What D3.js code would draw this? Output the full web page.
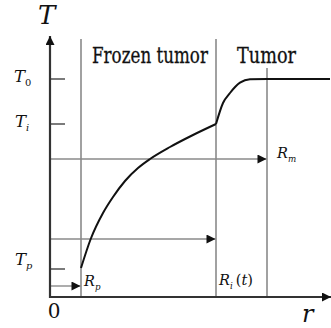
<!DOCTYPE html>
<html>
<head>
<meta charset="utf-8">
<script src="https://cdn.jsdelivr.net/npm/d3@7"></script>
<style>
  html, body { margin: 0; padding: 0; background: #fff; }
  svg { display: block; }
</style>
</head>
<body>
<svg id="chart" width="331" height="328"></svg>
<script>
// Radial positions (arbitrary units along r)
const radii = { Rp: 3.1, Ri: 16.6, Rm: 21.7, rMax: 28 };
// Temperature levels (arbitrary units along T)
const temps = { T0: 21.8, Ti: 17.3, Tp: 2.8, tMax: 26 };

// Temperature profile inside the frozen region (Rp .. Ri)
const frozenR = [3.1, 4.07, 5.3, 6.3, 7.5, 8.8, 10.0, 12.0, 14.3, 16.6];
const frozenT = [2.9, 5.8, 8.4, 10.0, 11.6, 12.9, 13.8, 15.0, 16.2, 17.3];
// Temperature profile in the unfrozen tumor (Ri .. outward)
const tumorR = [16.6, 17.3, 18.0, 19.0, 20.0, 21.7, 28];
const tumorT = [17.3, 19.4, 20.4, 21.43, 21.77, 21.8, 21.8];

// Horizontal arrow levels: target radius and temperature level
const arrowLevels = [
  { to: radii.Rm, t: 13.8 },
  { to: radii.Ri, t: 5.8 },
  { to: radii.Rp, t: 1.1 }
];

const FONT = "'DejaVu Serif', serif";

const svg = d3.select("#chart");
const x = d3.scaleLinear().domain([0, radii.rMax]).range([50, 330]);
const y = d3.scaleLinear().domain([0, temps.tMax]).range([297, 37]);

const defs = svg.append("defs");
defs.append("marker")
  .attr("id", "head")
  .attr("viewBox", "0 0 10 10")
  .attr("refX", 10).attr("refY", 5)
  .attr("markerWidth", 11).attr("markerHeight", 9)
  .attr("markerUnits", "userSpaceOnUse")
  .attr("orient", "auto")
  .append("path").attr("d", "M0,0 L10,5 L0,10 Z").attr("fill", "#111");

const gray = "#8a8a8a";

// Vertical boundaries at Rp, Ri and Rm
[[radii.Rp, 25.8], [radii.Ri, 25.8], [radii.Rm, 22.9]].forEach(([r, top]) => {
  svg.append("line")
    .attr("x1", x(r)).attr("x2", x(r))
    .attr("y1", y(top)).attr("y2", y(0))
    .attr("stroke", gray).attr("stroke-width", 1.6);
});

// Horizontal arrows from the axis out to each radius
arrowLevels.forEach(a => {
  svg.append("line")
    .attr("x1", x(0)).attr("x2", x(a.to) - 0.5)
    .attr("y1", y(a.t)).attr("y2", y(a.t))
    .attr("stroke", gray).attr("stroke-width", 1.4)
    .attr("marker-end", "url(#head)");
});

// Tick marks for T0, Ti, Tp
[temps.T0, temps.Ti, temps.Tp].forEach(t => {
  svg.append("line")
    .attr("x1", x(0)).attr("x2", x(0) + 15)
    .attr("y1", y(t)).attr("y2", y(t))
    .attr("stroke", "#333").attr("stroke-width", 1.3);
});

// Axes
svg.append("line")
  .attr("x1", x(0)).attr("x2", 331)
  .attr("y1", y(0)).attr("y2", y(0))
  .attr("stroke", "#333").attr("stroke-width", 2.2)
  .attr("marker-end", "url(#head)");
svg.append("line")
  .attr("x1", x(0)).attr("x2", x(0))
  .attr("y1", y(0) + 1).attr("y2", 36)
  .attr("stroke", "#333").attr("stroke-width", 2.2)
  .attr("marker-end", "url(#head)");

// Temperature curve
const line = d3.line().x(d => x(d[0])).y(d => y(d[1])).curve(d3.curveMonotoneX);
svg.append("path")
  .datum(d3.zip(frozenR, frozenT))
  .attr("d", line).attr("fill", "none")
  .attr("stroke", "#111").attr("stroke-width", 2);
svg.append("path")
  .datum(d3.zip(tumorR, tumorT))
  .attr("d", line).attr("fill", "none")
  .attr("stroke", "#111").attr("stroke-width", 2);

function txt(px, py, size) {
  return svg.append("text").attr("x", px).attr("y", py)
    .attr("font-family", FONT).attr("font-size", size).attr("fill", "#111");
}

// Condensed title: squeezed horizontally to a given width
function squeezed(px, py, size, width, label) {
  const t = svg.append("text").attr("x", 0).attr("y", 0)
    .attr("font-family", FONT).attr("font-size", size).attr("fill", "#111")
    .attr("stroke", "#111").attr("stroke-width", 0.3)
    .text(label);
  const w = t.node().getComputedTextLength();
  t.attr("transform", `translate(${px},${py}) scale(${width / w},1)`);
  return t;
}

// Region titles
squeezed(92, 63, 22, 116, "Frozen tumor");
squeezed(237, 63, 22, 59, "Tumor");

// Axis names
txt(38, 24, 26).attr("font-style", "italic").text("T");
txt(302, 322, 24).attr("font-style", "italic").text("r");
txt(54, 318, 20).attr("text-anchor", "middle").text("0");

// Symbol with subscript
function subLabel(px, py, main, sub, size, extra) {
  const t = txt(px, py, size);
  t.append("tspan").attr("font-style", "italic").text(main);
  t.append("tspan").attr("font-size", size * 0.6).attr("dy", size * 0.25)
    .attr("font-style", sub === "0" ? "normal" : "italic").text(sub);
  if (extra) {
    t.append("tspan").attr("dy", -size * 0.25).attr("dx", 3).text("(");
    t.append("tspan").attr("font-style", "italic").text("t");
    t.append("tspan").text(")");
  }
}
subLabel(14, y(temps.T0) + 3, "T", "0", 16.5);
subLabel(15, y(temps.Ti) + 3, "T", "i", 16.5);
subLabel(15, y(temps.Tp) - 4, "T", "p", 16.5);
subLabel(84, 286, "R", "p", 14.5);
subLabel(219, 285, "R", "i", 14.5, true);
subLabel(277, 158, "R", "m", 14.5);
</script>
</body>
</html>
